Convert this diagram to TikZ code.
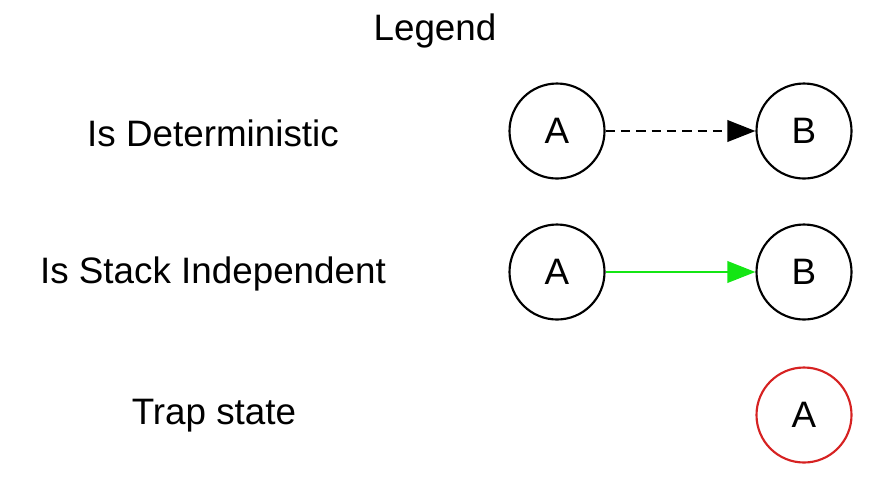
\documentclass[tikz,border=0pt]{standalone}
\usepackage{fontspec}
\setmainfont{Liberation Sans}
\usetikzlibrary{arrows.meta}
\begin{document}
\begin{tikzpicture}[x=0.75pt,y=-0.75pt,
  lbl/.style={font=\fontsize{27.6}{32}\selectfont, inner sep=0pt},
  st/.style={circle, draw=black, line width=1.6pt, minimum size=95*0.75pt, inner sep=0pt, font=\fontsize{27.6}{32}\selectfont},
  trap/.style={st, draw={rgb,255:red,214;green,34;blue,34}},
  edge/.style={line width=2pt, -{Triangle[length=21pt,width=16pt]}}]
\useasboundingbox (0,0) rectangle (870,480);
\node[lbl] (legend) at (435,31) {Legend};
\node[lbl] (l1) at (213,133) {Is Deterministic};
\node[lbl] (l2) at (213,274) {Is Stack Independent};
\node[lbl] (l3) at (214,416) {Trap state};
\node[st] (a1) at (557,131) {A};
\node[st] (b1) at (804,131) {B};
\node[st] (a2) at (557,272) {A};
\node[st] (b2) at (804,272) {B};
\node[trap] (t) at (804,415) {A};
\draw[edge, dash pattern=on 7pt off 4.5pt] (a1) -- (b1);
\draw[edge, color={rgb,255:red,20;green,230;blue,20}] (a2) -- (b2);
\end{tikzpicture}
\end{document}
